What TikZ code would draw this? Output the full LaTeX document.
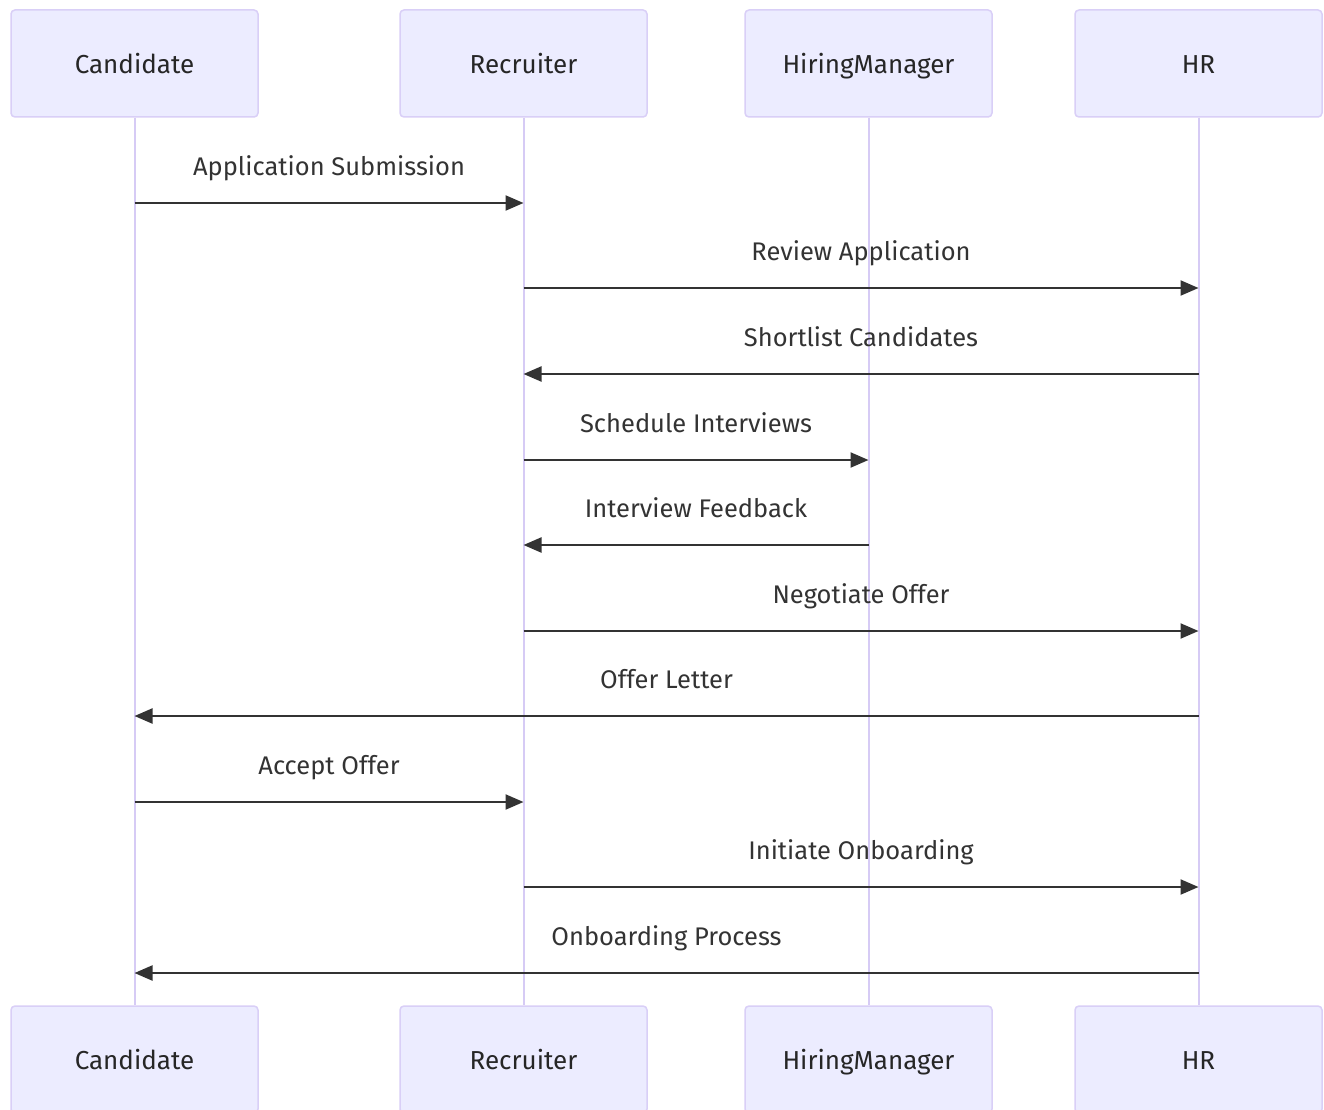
\documentclass[tikz,border=0pt]{standalone}
\usepackage{fontspec}
\setmainfont{Fira Sans}
\usetikzlibrary{arrows.meta}
\definecolor{actfill}{HTML}{ECECFF}
\definecolor{actdraw}{HTML}{D9CFF7}
\definecolor{lifec}{HTML}{D6CBF5}
\definecolor{txt}{HTML}{333333}
\begin{document}
\begin{tikzpicture}[x=1pt,y=-1pt,
  actor/.style={draw=actdraw,fill=actfill,line width=1.5pt,rounded corners=4pt,minimum width=247pt,minimum height=107pt,inner sep=0pt,font=\fontsize{26}{30}\selectfont,text=black!85,text height=23pt,text depth=2.2pt},
  life/.style={draw=lifec,line width=2pt},
  msg/.style={draw=txt,line width=2.2pt,-{Triangle[length=18pt,width=15pt]}},
  lbl/.style={font=\fontsize{25.5}{30}\selectfont,text=txt,inner sep=0pt,text height=7.2pt,text depth=2.2pt}]
\clip (0,0) rectangle (1324,1110);
\fill[white] (0,0) rectangle (1324,1110);
\node[actor] (cand) at (134.5,63.5) {Candidate};
\node[actor] (rec) at (523.5,63.5) {Recruiter};
\node[actor] (hm) at (868.5,63.5) {HiringManager};
\node[actor] (hr) at (1198.5,63.5) {HR};
\node[actor] (candB) at (134.5,1059.5) {Candidate};
\node[actor] (recB) at (523.5,1059.5) {Recruiter};
\node[actor] (hmB) at (868.5,1059.5) {HiringManager};
\node[actor] (hrB) at (1198.5,1059.5) {HR};
\draw[life] (cand.south) -- (candB.north);
\draw[life] (rec.south) -- (recB.north);
\draw[life] (hm.south) -- (hmB.north);
\draw[life] (hr.south) -- (hrB.north);
\foreach \a/\b/\y/\t in {cand/rec/203/Application Submission,
  rec/hr/288/Review Application,
  hr/rec/374/Shortlist Candidates,
  rec/hm/460/Schedule Interviews,
  hm/rec/545/Interview Feedback,
  rec/hr/631/Negotiate Offer,
  hr/cand/716/Offer Letter,
  cand/rec/802/Accept Offer,
  rec/hr/887/Initiate Onboarding,
  hr/cand/973/Onboarding Process}{
  \draw[msg] (\a.south |- 0,\y) -- node[lbl,above=24pt] {\t} (\b.south |- 0,\y);
}
\end{tikzpicture}
\end{document}
